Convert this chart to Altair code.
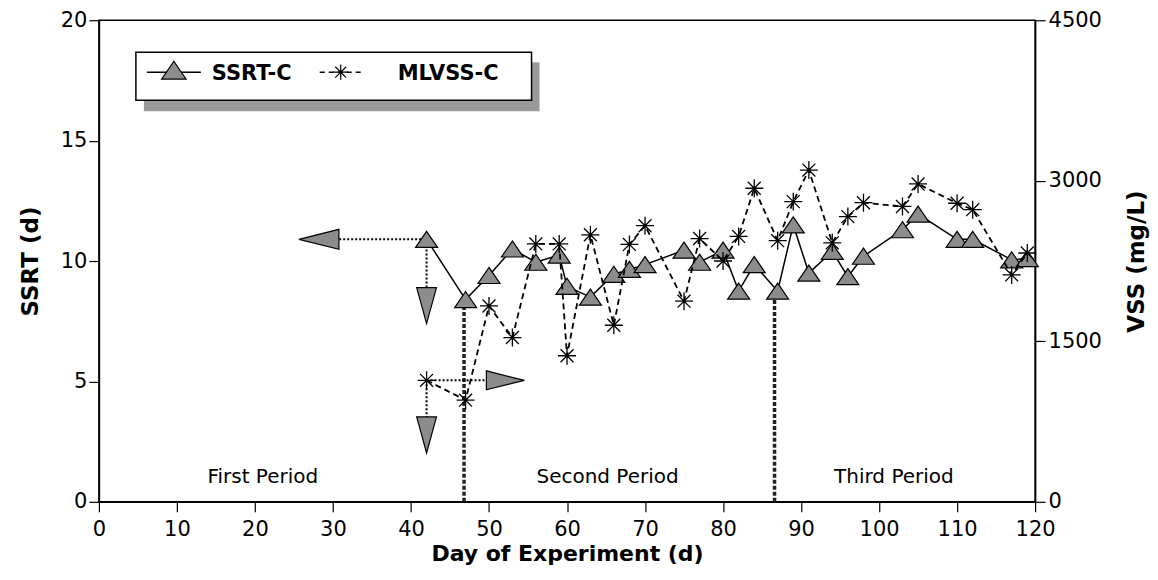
import altair as alt
import pandas as pd

# ---------------- data ----------------
ssrt_days = [42, 47, 50, 53, 56, 59, 60, 63, 66, 68, 70, 75, 77, 80, 82, 84, 87, 89, 91, 94, 96, 98, 103, 105, 110, 112, 117, 119]
ssrt_vals = [10.9, 8.4, 9.4, 10.5, 9.95, 10.25, 8.95, 8.5, 9.45, 9.65, 9.85, 10.45, 9.95, 10.45, 8.75, 9.85, 8.75, 11.5, 9.5, 10.4, 9.35, 10.2, 11.3, 11.95, 10.9, 10.9, 10.05, 10.1]

vss_days = [42, 47, 50, 53, 56, 59, 60, 63, 66, 68, 70, 75, 77, 80, 82, 84, 87, 89, 91, 94, 96, 98, 103, 105, 110, 112, 117, 119]
vss_vals = [1135, 950, 1830, 1535, 2410, 2410, 1365, 2495, 1650, 2405, 2580, 1875, 2460, 2250, 2480, 2930, 2440, 2805, 3100, 2420, 2665, 2795, 2760, 2970, 2790, 2730, 2120, 2325]

period_names = ["First Period", "Second Period", "Third Period"]
period_label_days = [21.0, 65.2, 101.9]
period_label_vals = [1.05, 1.05, 1.05]
period_bound_days = [46.8, 86.6]
period_bound_tops = [8.4, 8.75]

x_ticks = list(range(0, 121, 10))
ssrt_ticks = [0, 5, 10, 15, 20]
vss_ticks = [0, 1500, 3000, 4500]

# annotation arrows (axis pointers)
ssrt_ptr_day, ssrt_ptr_val = 42, 10.9
ssrt_left_arrow_day = 28.2
ssrt_hline_end_day = 30.8
ssrt_down_arrow_val = 8.15
ssrt_vline_end_val = 8.9
vss_ptr_day, vss_ptr_val = 42, 1135
vss_right_arrow_day = 52.1
vss_hline_end_day = 49.6
vss_down_arrow_val = 625
vss_vline_end_val = 780

FONT = "DejaVu Sans"
GRAY = "#8c8c8c"
TRI = "M0,-0.73L1,0.73L-1,0.73Z"
STAR = "M-1,0L1,0M0,-1L0,1M-0.72,-0.72L0.72,0.72M-0.72,0.72L0.72,-0.72"
ARROW_DOWN = "M-0.55,-1L0.55,-1L0,1Z"
ARROW_LEFT = "M-1,0L1,-0.5L1,0.5Z"
ARROW_RIGHT = "M1,0L-1,-0.5L-1,0.5Z"

ssrt_df = pd.DataFrame({"day": ssrt_days, "ssrt": ssrt_vals})
vss_df = pd.DataFrame({"day": vss_days, "vss": vss_vals})
period_df = pd.DataFrame({"day": period_label_days, "ssrt": period_label_vals, "name": period_names})
bound_df = pd.DataFrame({"day": period_bound_days, "top": period_bound_tops, "zero": [0, 0]})

x_axis = alt.Axis(values=x_ticks, title="Day of Experiment (d)", tickSize=10, labelPadding=7,
                  titlePadding=4, titleFontSize=22, format="d")
y_left_axis = alt.Axis(values=ssrt_ticks, title="SSRT (d)", tickSize=10, labelPadding=2,
                       titlePadding=18, format="d")
y_right_axis = alt.Axis(values=vss_ticks, title="VSS (mg/L)", orient="right", tickSize=10,
                        labelPadding=3, titlePadding=47, titleAngle=270, format="d")

x_scale = alt.Scale(domain=[0, 120], nice=False, zero=False)
yl_scale = alt.Scale(domain=[0, 20], nice=False)
yr_scale = alt.Scale(domain=[0, 4500], nice=False)


def X(field):
    return alt.X(field, type="quantitative", scale=x_scale, axis=x_axis)


def YL(field):
    return alt.Y(field, type="quantitative", scale=yl_scale, axis=y_left_axis)


def YR(field):
    return alt.Y(field, type="quantitative", scale=yr_scale, axis=y_right_axis)


# ---------------- left (SSRT) group ----------------
bounds = alt.Chart(bound_df).mark_rule(color="#222222", strokeWidth=3.5, strokeDash=[4, 2]).encode(
    x=X("day"), y=YL("zero"), y2=alt.Y2("top"))

ssrt_line = alt.Chart(ssrt_df).mark_line(color="black", strokeWidth=1.5).encode(
    x=X("day"), y=YL("ssrt"))
ssrt_pts = alt.Chart(ssrt_df).mark_point(shape=TRI, size=484, filled=True, fill=GRAY, stroke="black",
                                         strokeWidth=1.2, opacity=1).encode(x=X("day"), y=YL("ssrt"))

hline_l = alt.Chart(pd.DataFrame({"a": [ssrt_hline_end_day], "b": [ssrt_ptr_day], "v": [ssrt_ptr_val]})).mark_rule(
    color="black", strokeWidth=2, strokeDash=[2, 2]).encode(x=X("a"), x2=alt.X2("b"), y=YL("v"))
vline_l = alt.Chart(pd.DataFrame({"d": [ssrt_ptr_day], "a": [ssrt_vline_end_val], "b": [ssrt_ptr_val]})).mark_rule(
    color="black", strokeWidth=2, strokeDash=[2, 2]).encode(x=X("d"), y=YL("a"), y2=alt.Y2("b"))
arrow_left = alt.Chart(pd.DataFrame({"d": [ssrt_left_arrow_day], "v": [ssrt_ptr_val]})).mark_point(
    shape=ARROW_LEFT, size=1600, filled=True, fill=GRAY, stroke="black", strokeWidth=1.2, opacity=1).encode(
    x=X("d"), y=YL("v"))
arrow_down_l = alt.Chart(pd.DataFrame({"d": [ssrt_ptr_day], "v": [ssrt_down_arrow_val]})).mark_point(
    shape=ARROW_DOWN, size=1296, filled=True, fill=GRAY, stroke="black", strokeWidth=1.2, opacity=1).encode(
    x=X("d"), y=YL("v"))

period_text = alt.Chart(period_df).mark_text(font=FONT, fontSize=20, color="black").encode(
    x=X("day"), y=YL("ssrt"), text="name:N")

# legend (drawn as marks inside the plot area)
one = pd.DataFrame({"k": [0]})
leg_shadow = alt.Chart(one).mark_rect(color="#9a9a9a").encode(
    x=alt.value(45), x2=alt.value(441), y=alt.value(42), y2=alt.value(91))
leg_box = alt.Chart(one).mark_rect(fill="white", stroke="black", strokeWidth=1.5).encode(
    x=alt.value(37), x2=alt.value(433), y=alt.value(32), y2=alt.value(80))
leg_l1 = alt.Chart(one).mark_rule(color="black", strokeWidth=1.5).encode(
    x=alt.value(48), x2=alt.value(102), y=alt.value(52))
leg_p1 = alt.Chart(one).mark_point(shape=TRI, size=600, filled=True, fill=GRAY, stroke="black",
                                   strokeWidth=1.2, opacity=1).encode(x=alt.value(75), y=alt.value(50))
leg_t1 = alt.Chart(pd.DataFrame({"t": ["SSRT-C"]})).mark_text(
    font=FONT, fontSize=21, fontWeight="bold", align="left", baseline="alphabetic", color="black").encode(
    x=alt.value(113), y=alt.value(60), text="t:N")
leg_l2 = alt.Chart(one).mark_rule(color="black", strokeWidth=1.5, strokeDash=[5, 4]).encode(
    x=alt.value(221), x2=alt.value(264), y=alt.value(52))
leg_p2 = alt.Chart(one).mark_point(shape=STAR, size=230, filled=False, color="black",
                                   strokeWidth=1.2, opacity=1).encode(x=alt.value(242), y=alt.value(52))
leg_t2 = alt.Chart(pd.DataFrame({"t": ["MLVSS-C"]})).mark_text(
    font=FONT, fontSize=21, fontWeight="bold", align="left", baseline="alphabetic", color="black").encode(
    x=alt.value(299), y=alt.value(60), text="t:N")

left_group = alt.layer(bounds, hline_l, vline_l, arrow_left, arrow_down_l, ssrt_line, ssrt_pts,
                       period_text, leg_shadow, leg_box, leg_l1, leg_p1, leg_t1, leg_l2, leg_p2, leg_t2)

# ---------------- right (VSS) group ----------------
vss_line = alt.Chart(vss_df).mark_line(color="black", strokeWidth=1.8, strokeDash=[6, 4]).encode(
    x=X("day"), y=YR("vss"))
vss_pts = alt.Chart(vss_df).mark_point(shape=STAR, size=324, filled=False, color="black",
                                       strokeWidth=1.3, opacity=1).encode(x=X("day"), y=YR("vss"))
hline_r = alt.Chart(pd.DataFrame({"a": [vss_ptr_day], "b": [vss_hline_end_day], "v": [vss_ptr_val]})).mark_rule(
    color="black", strokeWidth=2, strokeDash=[2, 2]).encode(x=X("a"), x2=alt.X2("b"), y=YR("v"))
vline_r = alt.Chart(pd.DataFrame({"d": [vss_ptr_day], "a": [vss_vline_end_val], "b": [vss_ptr_val]})).mark_rule(
    color="black", strokeWidth=2, strokeDash=[2, 2]).encode(x=X("d"), y=YR("a"), y2=alt.Y2("b"))
arrow_right = alt.Chart(pd.DataFrame({"d": [vss_right_arrow_day], "v": [vss_ptr_val]})).mark_point(
    shape=ARROW_RIGHT, size=1444, filled=True, fill=GRAY, stroke="black", strokeWidth=1.2, opacity=1).encode(
    x=X("d"), y=YR("v"))
arrow_down_r = alt.Chart(pd.DataFrame({"d": [vss_ptr_day], "v": [vss_down_arrow_val]})).mark_point(
    shape=ARROW_DOWN, size=1296, filled=True, fill=GRAY, stroke="black", strokeWidth=1.2, opacity=1).encode(
    x=X("d"), y=YR("v"))

right_group = alt.layer(hline_r, vline_r, arrow_right, arrow_down_r, vss_line, vss_pts)

chart = alt.layer(left_group, right_group).resolve_scale(y="independent").properties(
    width=937, height=482, autosize="none",
    padding={"left": 91, "top": 12, "right": 115, "bottom": 66},
    background="white",
).configure_view(stroke="black", strokeWidth=1.5).configure_axis(
    grid=False, domainColor="black", domainWidth=1.5, tickColor="black", tickWidth=1.2,
    labelColor="black", titleColor="black", labelFont=FONT, titleFont=FONT,
    labelFontSize=21, titleFontSize=23, titleFontWeight="bold", labelFlush=False, labelOverlap=False,
)

chart.save("out.html", embed_options={"renderer": "svg", "actions": False})
